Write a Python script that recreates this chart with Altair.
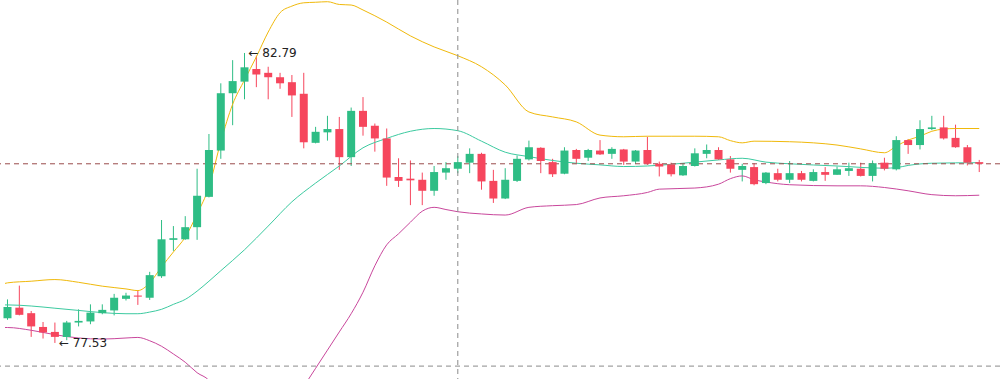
import altair as alt
import pandas as pd
import numpy as np

# ---- candle data (index = bar number) ----
opens = [77.98,78.17,78.07,77.82,77.73,77.64,77.90,77.92,78.07,78.12,
         78.33,78.39,78.35,78.74,79.40,79.41,79.63,80.18,81.02,82.06,
         82.27,82.50,82.43,82.35,82.26,82.05,81.16,81.35,81.41,80.90,
         81.74,81.47,81.24,80.54,80.51,80.49,80.29,80.62,80.69,80.80,
         80.96,80.47,80.15,80.47,80.86,81.07,80.81,80.60,81.03,80.89,
         81.02,80.96,81.04,80.82,81.03,80.78,80.77,80.57,80.74,80.96,
         81.03,80.86,80.67,80.72,80.43,80.61,80.49,80.61,80.47,80.63,
         80.58,80.65,80.69,80.56,80.80,80.68,81.21,81.12,81.41,81.44,
         81.25,81.08,80.81]
highs = [78.32,78.57,78.11,77.91,77.90,77.93,78.14,78.23,78.23,78.42,
         78.44,78.49,78.82,79.76,79.65,79.83,80.69,81.32,82.24,82.66,
         82.79,82.74,82.54,82.43,82.39,82.43,81.45,81.65,81.63,81.80,
         81.99,81.51,81.42,80.88,80.84,80.62,80.74,80.81,80.92,81.06,
         80.98,80.67,80.70,80.93,81.20,81.08,80.87,81.08,81.05,81.05,
         81.21,81.08,81.05,81.03,81.27,80.82,80.80,80.79,81.06,81.13,
         81.08,80.92,80.78,80.79,80.63,80.69,80.83,80.65,80.68,80.72,
         80.73,80.80,80.80,80.84,80.89,81.28,81.23,81.57,81.65,81.65,
         81.49,81.12,80.85]
lows = [77.95,78.03,77.64,77.61,77.53,77.58,77.83,77.87,78.05,78.03,
        78.30,78.22,78.31,78.71,79.20,79.40,79.40,80.17,80.87,81.48,
        81.95,82.17,81.95,82.14,81.63,81.06,81.15,81.20,80.67,80.74,
        81.29,81.00,80.38,80.36,80.03,80.03,80.20,80.49,80.61,80.61,
        80.31,80.07,80.14,80.45,80.84,80.61,80.54,80.59,80.79,80.83,
        80.94,80.87,80.76,80.78,80.76,80.55,80.55,80.56,80.73,80.88,
        80.85,80.62,80.46,80.39,80.41,80.46,80.43,80.46,80.46,80.47,
        80.58,80.56,80.55,80.46,80.66,80.66,80.96,81.04,81.39,81.22,
        81.07,80.75,80.63]
closes = [78.18,78.04,77.83,77.72,77.64,77.90,77.93,78.08,78.13,78.35,
          78.39,78.37,78.76,79.41,79.43,79.63,80.20,81.03,82.06,82.28,
          82.53,82.40,82.35,82.24,82.02,81.17,81.36,81.41,80.90,81.74,
          81.45,81.24,80.53,80.47,80.48,80.29,80.63,80.70,80.81,80.96,
          80.46,80.15,80.49,80.87,81.08,80.83,80.59,81.02,80.87,81.03,
          80.95,81.05,80.82,81.02,80.78,80.73,80.59,80.74,80.97,81.03,
          80.86,80.69,80.74,80.41,80.62,80.49,80.61,80.49,80.63,80.58,
          80.68,80.70,80.56,80.79,80.69,81.21,81.12,81.41,81.44,81.24,
          81.08,80.80,80.78]

# ---- Bollinger bands (read at selected bars) ----
up_idx = [-0.21,0,2,4,6,8,10,11,12,13,14,15,16,17,18,19,20,21,22,23,24,25,26,27,28,29,
          30,32,34,36,38,40,42,44,46,48,50,52,54,56,58,60,61,62,63,66,68,70,72,74,
          75,76,77,78,79,80,82]
up_val = [78.61,78.62,78.65,78.68,78.63,78.56,78.51,78.48,78.62,78.91,
          79.18,79.45,79.87,80.36,81.18,81.86,82.30,82.72,83.17,83.52,83.64,83.70,83.71,83.72,83.67,83.66,
          83.57,83.35,83.10,82.90,82.74,82.54,82.21,81.72,81.63,81.54,
          81.30,81.27,81.28,81.28,81.28,81.27,81.20,81.16,81.19,
          81.18,81.16,81.12,81.05,80.98,81.10,81.21,81.28,81.37,81.41,81.42,81.42]
mid_idx = [-0.21,0,2,4,6,8,10,11,12,13,14,15,16,17,18,20,22,24,26,28,30,32,34,36,38,
           40,42,44,46,48,50,52,54,56,58,60,62,64,66,70,74,75,76,78,82]
mid_val = [78.22,78.22,78.20,78.16,78.12,78.08,78.06,78.06,78.09,78.14,
           78.23,78.32,78.47,78.65,78.84,79.22,79.65,80.09,80.43,80.74,81.07,81.24,81.37,81.42,81.38,
           81.19,80.99,80.91,80.84,80.79,80.76,80.73,80.74,80.77,80.81,
           80.85,80.88,80.81,80.78,80.74,80.70,80.71,80.75,80.79,80.80]
low_idx = [-0.21,0,2,4,6,8,10,11,12,13,14,15,16,17,18,19,20,21,22,23,24,25,26,27,28,29,
           30,31,32,33,34,35,36,37,38,40,42,44,46,48,50,52,54,55,58,60,61,62,63,64,66,
           70,72,74,76,78,80,82]
low_val = [77.81,77.81,77.76,77.68,77.62,77.60,77.62,77.63,77.57,77.47,
           77.33,77.18,76.99,76.85,76.50,76.21,76.13,76.15,76.13,76.22,
           76.41,76.74,77.07,77.40,77.73,78.06,78.45,78.93,79.31,79.51,
           79.72,79.92,79.99,79.95,79.91,
           79.87,79.85,79.99,80.02,80.04,80.16,80.20,80.26,80.32,
           80.34,80.41,80.51,80.56,80.49,80.45,80.40,
           80.38,80.38,80.35,80.29,80.22,80.20,80.21]

grid_idx = [7, 15, 23, 31, 39, 47, 55, 63, 71, 79]
cross_idx = 38
cross_price = 77.11
hi_idx, lo_idx = 20, 4

GREEN = "#2ebd85"
RED = "#f6465d"
UP_C, MID_C, LOW_C = "#f0b90b", "#3ccaa0", "#c9479c"

df = pd.DataFrame({"i": list(range(len(opens))), "open": opens, "high": highs,
                   "low": lows, "close": closes})
df["dir"] = np.where(df["close"] >= df["open"], "up", "down")

xs = alt.Scale(domain=[-0.21, 83.33], nice=False, zero=False)
ys = alt.Scale(domain=[76.876, 83.751], nice=False, zero=False)
xax = alt.Axis(values=grid_idx, grid=True, gridColor="#f3f3f3", gridWidth=1,
               labels=False, ticks=False, domain=False, title=None)

col = alt.Color("dir:N", scale=alt.Scale(domain=["up", "down"], range=[GREEN, RED]), legend=None)
base = alt.Chart(df)


def band(idx, vals, color):
    return alt.Chart(pd.DataFrame({"i": idx, "v": vals})).mark_line(
        strokeWidth=1, clip=True, color=color, interpolate="monotone").encode(
        x=alt.X("i:Q", scale=xs, axis=None),
        y=alt.Y("v:Q", scale=ys, axis=None),
        order="i:Q")


upper = band(up_idx, up_val, UP_C)
middle = band(mid_idx, mid_val, MID_C)
lower = band(low_idx, low_val, LOW_C)

last_line = alt.Chart(pd.DataFrame({"p": [closes[-1]]})).mark_rule(
    strokeDash=[5, 4], color="#9a4a4a", strokeWidth=1).encode(y=alt.Y("p:Q", scale=ys, axis=None))
cross_h = alt.Chart(pd.DataFrame({"p": [cross_price]})).mark_rule(
    strokeDash=[5, 4], color="#8a8a8a", strokeWidth=1).encode(y=alt.Y("p:Q", scale=ys, axis=None))
cross_v = alt.Chart(pd.DataFrame({"i": [cross_idx]})).mark_rule(
    strokeDash=[5, 4], color="#8a8a8a", strokeWidth=1).encode(x=alt.X("i:Q", scale=xs, axis=None))

wicks = base.mark_rule(strokeWidth=1, clip=True).encode(
    x=alt.X("i:Q", scale=xs, axis=xax), y=alt.Y("low:Q", scale=ys, axis=None), y2="high:Q", color=col)
bodies = base.mark_bar(size=8, clip=True).encode(
    x=alt.X("i:Q", scale=xs, axis=None), y=alt.Y("open:Q", scale=ys, axis=None), y2="close:Q", color=col)

labels_df = pd.DataFrame({
    "i": [hi_idx, lo_idx],
    "p": [highs[hi_idx], lows[lo_idx]],
    "t": ["\u2190 " + f"{highs[hi_idx]:.2f}", "\u2190 " + f"{lows[lo_idx]:.2f}"],
})
labels = alt.Chart(labels_df).mark_text(align="left", baseline="middle", dx=4, fontSize=12,
                                        font="DejaVu Sans", color="#222222").encode(
    x=alt.X("i:Q", scale=xs, axis=None), y=alt.Y("p:Q", scale=ys, axis=None), text="t:N")

chart = alt.layer(wicks, upper, middle, lower, last_line, cross_h, cross_v, bodies, labels).properties(
    width=1000, height=379, padding=0, autosize="none", background="white"
).configure_view(strokeWidth=0)

chart.save("out.html", embed_options={"renderer": "svg", "actions": False})
